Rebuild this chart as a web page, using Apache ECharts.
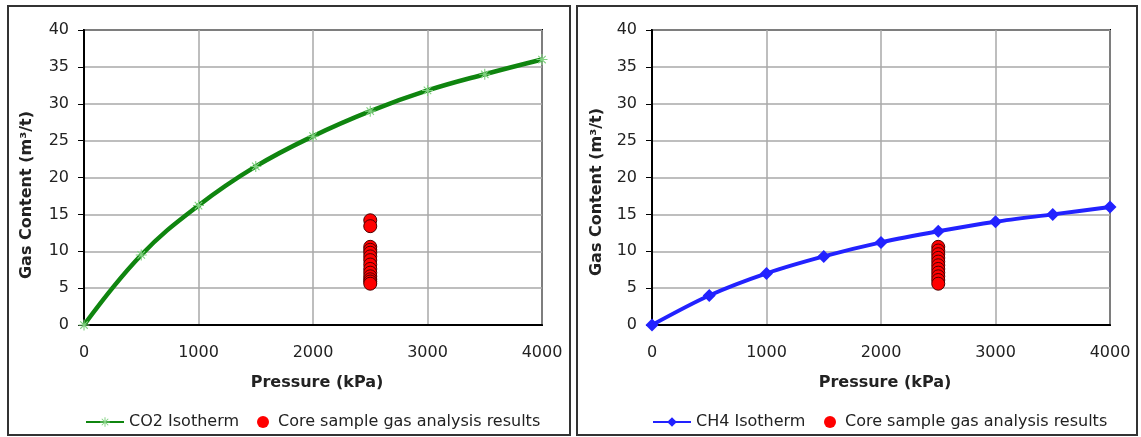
<!DOCTYPE html>
<html><head><meta charset="utf-8">
<script src="https://cdn.jsdelivr.net/npm/echarts@6/dist/echarts.min.js"></script>
<style>html,body{margin:0;padding:0;background:#fff}#c{width:1141px;height:437px}</style>
</head><body><div id="c"></div>
<script>
const pressure = [0, 500, 1000, 1500, 2000, 2500, 3000, 3500, 4000];
const co2Isotherm = [0, 9.5, 16.2, 21.5, 25.6, 29.0, 31.8, 34.0, 36.0];
const ch4Isotherm = [0, 4.0, 7.0, 9.3, 11.2, 12.7, 14.0, 15.0, 16.0];
const samplePressure = 2500;
const coreLeft = [14.2, 13.4, 10.6, 10.2, 9.8, 9.3, 8.8, 8.2, 7.6, 7.1, 6.6, 6.2, 5.9, 5.6];
const coreRight = [10.6, 10.1, 9.6, 9.1, 8.6, 8.1, 7.6, 7.1, 6.6, 6.1, 5.6];
const xTicks = [0, 1000, 2000, 3000, 4000];
const yTicks = [0, 5, 10, 15, 20, 25, 30, 35, 40];

const FONT = 'DejaVu Sans';
const asterisk = 'path://M0,9L20,9L20,11L0,11Z M9,0L11,0L11,20L9,20Z M2.5,3.9L3.9,2.5L17.5,16.1L16.1,17.5Z M16.1,2.5L17.5,3.9L3.9,17.5L2.5,16.1Z';

function pairs(xs, ys){ return xs.map((x,i)=>[x, ys[i]]); }
function xAxis(i){ return {gridIndex:i, type:'value', min:xTicks[0], max:xTicks[xTicks.length-1], interval:1000,
  axisLine:{show:true,lineStyle:{color:'#000',width:2}}, axisTick:{show:false},
  axisLabel:{color:'#222',fontFamily:FONT,fontSize:16,margin:20,formatter:v=>String(v)},
  splitLine:{show:true,lineStyle:{color:'#a8a8a8',width:1.5}}}; }
function yAxis(i){ return {gridIndex:i, type:'value', min:yTicks[0], max:yTicks[yTicks.length-1], interval:5,
  axisLine:{show:true,lineStyle:{color:'#000',width:2}}, axisTick:{show:true,length:6,lineStyle:{color:'#000'}},
  axisLabel:{color:'#222',fontFamily:FONT,fontSize:16,margin:15,formatter:v=>String(v)},
  splitLine:{show:true,lineStyle:{color:'#a8a8a8',width:1.5}}}; }
const core = (name, xi, data) => ({name:name, type:'scatter', xAxisIndex:xi, yAxisIndex:xi,
  data: data.map(v=>[samplePressure, v]), symbol:'circle', symbolSize:13,
  itemStyle:{color:'#ff0000', borderColor:'#4a0000', borderWidth:1, opacity:1}, z:3});
const legendText = {fontFamily:FONT, fontSize:16, color:'#222'};
const dotLegend = {itemWidth:20, itemHeight:12, itemStyle:{borderWidth:0}, textStyle:legendText};

const chart = echarts.init(document.getElementById('c'), null, {renderer:'canvas'});
chart.setOption({
  animation:false,
  backgroundColor:'#fff',
  grid:[
    {left:84, top:30, width:458, height:295, show:true, borderColor:'#000', borderWidth:2, backgroundColor:'transparent'},
    {left:652, top:30, width:458, height:295, show:true, borderColor:'#000', borderWidth:2, backgroundColor:'transparent'}
  ],
  xAxis:[xAxis(0), xAxis(1)],
  yAxis:[yAxis(0), yAxis(1)],
  legend:[
    {left:80, top:409, itemWidth:38, itemHeight:12, textStyle:legendText, data:['CO2 Isotherm']},
    Object.assign({left:252, top:409, data:[{name:'Core sample gas analysis results', icon:'circle', itemStyle:{borderWidth:0}}]}, dotLegend),
    {left:647, top:409, itemWidth:38, itemHeight:12, textStyle:legendText, data:['CH4 Isotherm']},
    Object.assign({left:819, top:409, data:[{name:'Core sample gas analysis results ', icon:'circle', itemStyle:{borderWidth:0}}]}, dotLegend)
  ],
  graphic:[
    {type:'rect', shape:{x:8, y:6, width:562, height:429}, style:{fill:'none', stroke:'#333', lineWidth:2}, silent:true},
    {type:'rect', shape:{x:577, y:6, width:560, height:429}, style:{fill:'none', stroke:'#333', lineWidth:2}, silent:true},
    {type:'text', x:27, y:195, rotation:Math.PI/2, style:{text:'Gas Content (m³/t)', font:'bold 16px "DejaVu Sans"', fill:'#222', textAlign:'center', textVerticalAlign:'middle'}},
    {type:'text', x:597, y:192, rotation:Math.PI/2, style:{text:'Gas Content (m³/t)', font:'bold 16px "DejaVu Sans"', fill:'#222', textAlign:'center', textVerticalAlign:'middle'}},
    {type:'text', x:317, y:383, style:{text:'Pressure (kPa)', font:'bold 16px "DejaVu Sans"', fill:'#222', textAlign:'center', textVerticalAlign:'middle'}},
    {type:'text', x:885, y:383, style:{text:'Pressure (kPa)', font:'bold 16px "DejaVu Sans"', fill:'#222', textAlign:'center', textVerticalAlign:'middle'}}
  ],
  series:[
    {name:'CO2 Isotherm', type:'line', xAxisIndex:0, yAxisIndex:0, data:pairs(pressure, co2Isotherm), smooth:0.4,
      symbol:asterisk, symbolSize:11, showSymbol:true,
      lineStyle:{color:'#0f850f', width:4.5}, itemStyle:{color:'#80d080'}, z:2},
    core('Core sample gas analysis results', 0, coreLeft),
    {name:'CH4 Isotherm', type:'line', xAxisIndex:1, yAxisIndex:1, data:pairs(pressure, ch4Isotherm), smooth:0.3,
      symbol:'diamond', symbolSize:13, showSymbol:true,
      lineStyle:{color:'#2222ff', width:4}, itemStyle:{color:'#2222ff'}, z:2},
    core('Core sample gas analysis results ', 1, coreRight)
  ]
});
</script></body></html>
